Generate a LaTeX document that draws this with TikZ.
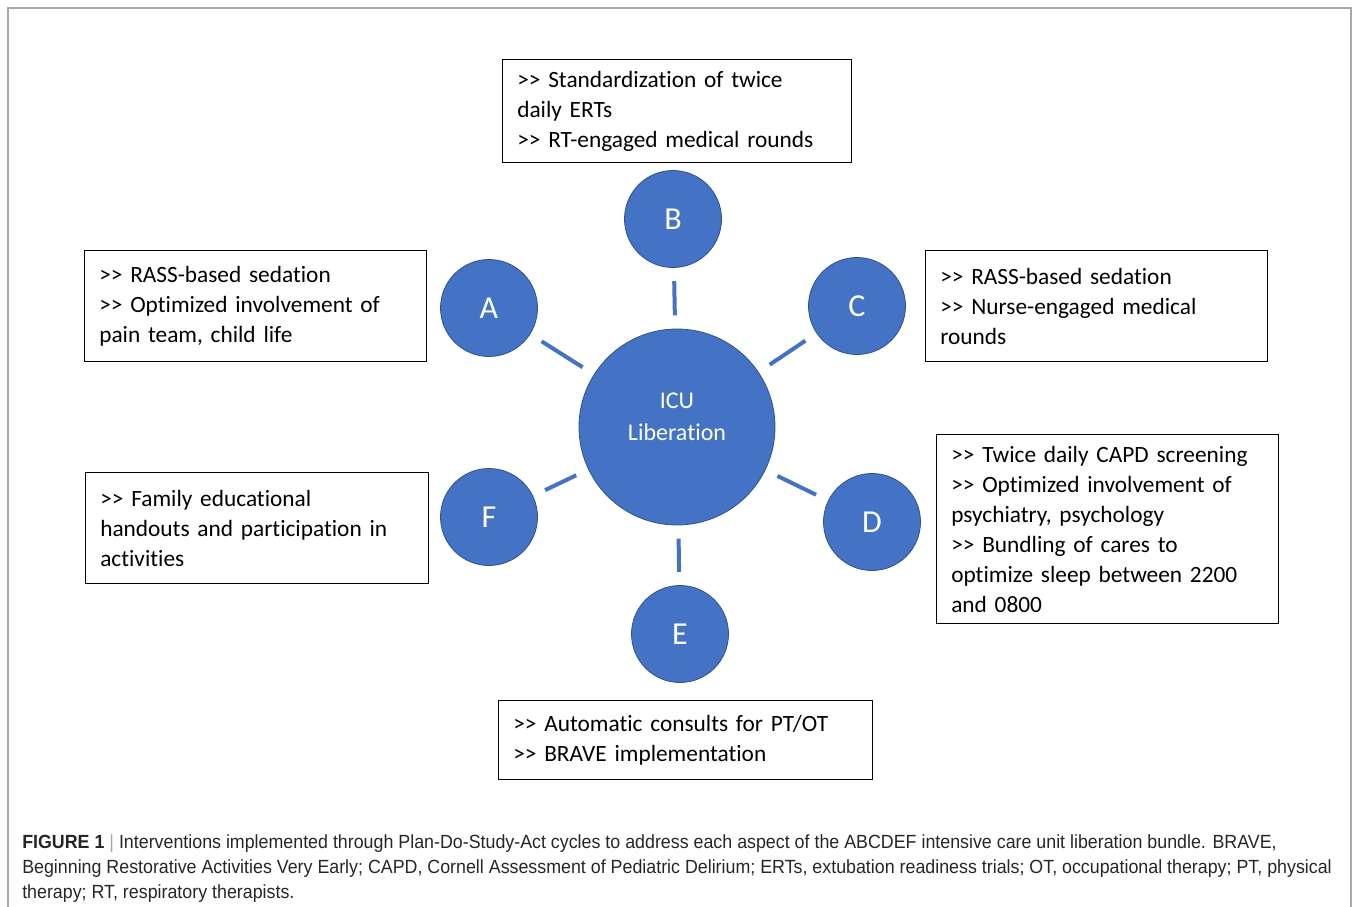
\documentclass[tikz,border=0pt]{standalone}
\usepackage{fontspec}
\setmainfont{Carlito}[Ligatures={NoCommon}]
\newfontfamily\capfont[FakeStretch=0.935]{Liberation Sans}
\usetikzlibrary{calc}
\definecolor{bubblue}{HTML}{4472C4}
\definecolor{bubedge}{HTML}{2F528F}
\definecolor{framegray}{HTML}{A8A8A8}
\newcommand\mk{>\kern0pt>}
\tikzset{
  bubble/.style={circle,fill=bubblue,draw=bubedge,line width=0.6pt,text=white,
    minimum size=97*0.75pt,inner sep=0pt,font=\fontsize{24}{28}\selectfont},
  spoke/.style={draw=bubblue,line width=3pt,shorten <=10pt,shorten >=10pt},
  infobox/.style={draw=black,line width=0.9pt,anchor=north west,align=left,
    inner xsep=11pt,inner ysep=4pt,font=\fontsize{17.5}{22.5}\selectfont}
}
\begin{document}
\begin{tikzpicture}[x=0.75pt,y=-0.75pt]
  \useasboundingbox (0,0) rectangle (1354,907);
  \draw[framegray,line width=1.5pt] (8,907)--(8,8)--(1351,8)--(1351,907);
  % hub and the six letters
  \node[bubble,minimum size=196*0.75pt,
    label={[text=white,align=center,yshift=8pt,font=\fontsize{18}{24}\selectfont]center:ICU\\Liberation}] (icu) at (677,427) {};
  \node[bubble] (A) at (489,308) {A};
  \node[bubble] (B) at (673,219) {B};
  \node[bubble] (C) at (857,306) {C};
  \node[bubble] (D) at (872,522) {D};
  \node[bubble] (E) at (680,634) {E};
  \node[bubble] (F) at (489,517) {F};
  \foreach \k in {A,B,C,D,E,F}
    \draw[spoke] (\k)--(icu);
  % text boxes
  \node[infobox,text width=349*0.75pt-22pt,minimum height=103*0.75pt] (boxB) at (502,59)
    {\mk{} Standardization of twice\\daily ERTs\\\mk{} RT-engaged medical rounds};
  \node[infobox,text width=342*0.75pt-22pt,minimum height=111*0.75pt] (boxA) at (84,250)
    {\mk{} RASS-based sedation\\\mk{} Optimized involvement of\\pain team, child life};
  \node[infobox,text width=342*0.75pt-22pt,minimum height=111*0.75pt] (boxC) at (925,250)
    {\mk{} RASS-based sedation\\\mk{} Nurse-engaged medical\\rounds};
  \node[infobox,text width=342*0.75pt-22pt,minimum height=189*0.75pt] (boxD) at (936,434)
    {\mk{} Twice daily CAPD screening\\\mk{} Optimized involvement of\\psychiatry, psychology\\\mk{} Bundling of cares to\\optimize sleep between 2200\\and 0800};
  \node[infobox,text width=343*0.75pt-22pt,minimum height=111*0.75pt] (boxF) at (85,472)
    {\mk{} Family educational\\handouts and participation in\\activities};
  \node[infobox,text width=374*0.75pt-22pt,minimum height=79*0.75pt] (boxE) at (498,700)
    {\mk{} Automatic consults for PT/OT\\\mk{} BRAVE implementation};
  % caption
  \node[anchor=north west,align=left,inner sep=0pt,text=black!85,font=\capfont\fontsize{14.3}{18.75}\selectfont] (cap) at (22,834)
    {\textbf{FIGURE 1} {\color{framegray}|} Interventions implemented through Plan-Do-Study-Act cycles to address each aspect of the ABCDEF intensive care unit liberation bundle. BRAVE,\\
     Beginning Restorative Activities Very Early; CAPD, Cornell Assessment of Pediatric Delirium; ERTs, extubation readiness trials; OT, occupational therapy; PT, physical\\
     therapy; RT, respiratory therapists.};
\end{tikzpicture}
\end{document}
